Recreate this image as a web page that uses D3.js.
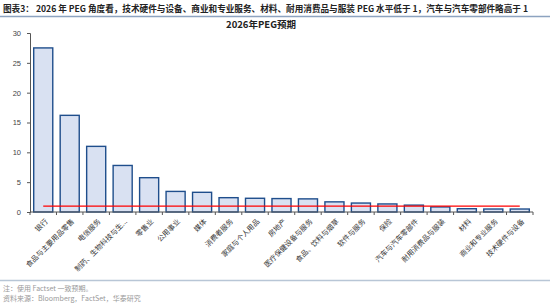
<!DOCTYPE html>
<html>
<head>
<meta charset="utf-8">
<script src="https://cdn.jsdelivr.net/npm/d3@7"></script>
<style>
  body { margin: 0; background: #fff; }
  svg { display: block; font-family: "Noto Sans CJK SC", "Liberation Sans", sans-serif; }
</style>
</head>
<body>
<svg id="drawing_region"></svg>
<script>
const categories = ["银行", "食品与主要用品零售", "电信服务", "制药、生物科技与生...", "零售业", "公用事业", "媒体",
    "消费者服务", "家庭与个人用品", "房地产", "医疗保健设备与服务", "食品、饮料与烟草", "软件与服务", "保险",
    "汽车与汽车零部件", "耐用消费品与服装", "材料", "商业和专业服务", "技术硬件与设备"];
const peg = [27.5, 16.2, 11.0, 7.8, 5.75, 3.45, 3.3, 2.4, 2.3, 2.25, 2.2, 1.7, 1.5, 1.35, 1.15, 0.85, 0.55, 0.5, 0.5];
const refLine = 1;
const yTicks = [0, 5, 10, 15, 20, 25, 30];

const width = 550, height = 303;
const margin = {top: 33, right: 17, bottom: 91, left: 30};

const svg = d3.select('#drawing_region')
    .attr('width', width)
    .attr('height', height);

// page heading
svg.append('text')
    .attr('x', 3).attr('y', 12)
    .attr('font-size', 8.6).attr('font-weight', 'bold').attr('fill', '#222')
    .attr('textLength', 525).attr('lengthAdjust', 'spacingAndGlyphs')
    .text('图表3：  2026 年 PEG 角度看，技术硬件与设备、商业和专业服务、材料、耐用消费品与服装 PEG 水平低于 1，汽车与汽车零部件略高于 1');
svg.append('line')
    .attr('x1', 0).attr('x2', 550).attr('y1', 16.5).attr('y2', 16.5)
    .attr('stroke', '#8da3c0').attr('stroke-width', 1.5);

const inner_width = width - margin.left - margin.right;
const inner_height = 212 - margin.top;

const chart = svg.append('g')
    .attr('transform', `translate(${margin.left}, ${margin.top})`);

const xscale = d3.scaleBand()
    .domain(categories)
    .range([0, inner_width])
    .paddingInner(0.28)
    .paddingOuter(0.14);

const yscale = d3.scaleLinear()
    .domain([0, 30])
    .range([inner_height, 0]);

chart.append('text')
    .attr('x', 231).attr('y', -5)
    .attr('text-anchor', 'middle')
    .attr('font-size', 9.5).attr('font-weight', 'bold').attr('fill', '#222')
    .text('2026年PEG预期');

// bars
chart.selectAll('rect.bar')
    .data(peg)
    .join('rect')
    .attr('class', 'bar')
    .attr('x', (d, i) => xscale(categories[i]))
    .attr('y', d => yscale(d))
    .attr('width', xscale.bandwidth())
    .attr('height', d => yscale(0) - yscale(d))
    .attr('fill', '#d9e1f2')
    .attr('stroke', '#1f4e8c')
    .attr('stroke-width', 1.4);

// reference line at PEG = 1
const first = categories[0], last = categories[categories.length - 1];
chart.append('line')
    .attr('x1', xscale(first) + xscale.bandwidth() / 2)
    .attr('x2', xscale(last) + xscale.bandwidth() / 2)
    .attr('y1', yscale(refLine)).attr('y2', yscale(refLine))
    .attr('stroke', '#ff0000').attr('stroke-width', 1.2);

// y axis
const yaxis = d3.axisLeft(yscale).tickValues(yTicks).tickSize(3).tickPadding(6);
const yg = chart.append('g').call(yaxis);
yg.select('.domain').attr('stroke', '#555');
yg.selectAll('.tick line').attr('stroke', '#555');
yg.selectAll('.tick text').attr('font-size', 7.5).attr('fill', '#444')
    .attr('font-family', '"Liberation Sans", sans-serif');

// x axis with ticks at band boundaries
const xg = chart.append('g').attr('transform', `translate(0, ${inner_height})`);
xg.append('line')
    .attr('x1', 0).attr('x2', inner_width)
    .attr('stroke', '#555');
const step = xscale.step();
xg.selectAll('line.tk')
    .data(d3.range(categories.length + 1))
    .join('line')
    .attr('class', 'tk')
    .attr('x1', i => i * step).attr('x2', i => i * step)
    .attr('y1', 0).attr('y2', 3)
    .attr('stroke', '#555');
xg.selectAll('text')
    .data(categories)
    .join('text')
    .attr('transform', d => `translate(${xscale(d) + xscale.bandwidth() / 2 + 5}, 10) rotate(-45)`)
    .attr('text-anchor', 'end')
    .attr('font-size', 7.2).attr('fill', '#333')
    .text(d => d);

// footer
svg.append('line')
    .attr('x1', 0).attr('x2', 550).attr('y1', 280.5).attr('y2', 280.5)
    .attr('stroke', '#b8c6d6').attr('stroke-width', 1.5);
svg.append('text')
    .attr('x', 3).attr('y', 291)
    .attr('font-size', 7).attr('fill', '#999')
    .text('注：使用 Factset 一致预期。');
svg.append('text')
    .attr('x', 3).attr('y', 301)
    .attr('font-size', 7).attr('fill', '#999')
    .text('资料来源：Bloomberg，FactSet，华泰研究');
</script>
</body>
</html>
